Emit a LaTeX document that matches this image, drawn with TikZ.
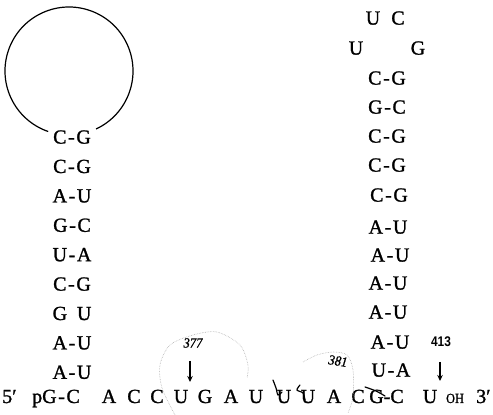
\documentclass[tikz,border=0pt]{standalone}
\usepackage{fontspec}
\usetikzlibrary{arrows.meta}
\setmainfont{Liberation Serif}
\newfontfamily\nucfam[FakeBold=1.2]{Liberation Serif}
\newfontfamily\numfam{Liberation Sans}
\newfontfamily\handfam[FakeBold=1]{Liberation Serif}
\newcommand\bpr[2]{#1\kern1.6pt-\kern1.6pt#2}
\begin{document}
\begin{tikzpicture}[x=1pt,y=1pt,
  nt/.style={font=\nucfam\fontsize{20}{20}\selectfont, inner sep=0pt, anchor=base},
  ntw/.style={nt, anchor=base west},
  smalloh/.style={font=\nucfam\fontsize{14}{14}\selectfont, inner sep=0pt, anchor=base, xscale=0.88},
  posnum/.style={font=\numfam\bfseries\fontsize{14}{14}\selectfont, inner sep=0pt, xscale=0.85},
  handnum/.style={font=\handfam\itshape\fontsize{14}{14}\selectfont, inner sep=0pt, xscale=0.9},
  loopline/.style={line width=1.2pt},
  pointer/.style={line width=1.1pt, -{Stealth[length=6pt,width=5.5pt]}},
  pencil/.style={gray!65, line width=0.6pt, densely dotted},
  scrawl/.style={black, line width=1.2pt, line cap=round}
]
\useasboundingbox (0,0) rectangle (493,415);

% ---------- left hairpin ----------
\coordinate (lc) at (69,344);
\draw[loopline] (lc) ++(-65:64pt) arc[start angle=-65, end angle=251, radius=64pt];
\node[nt] (l1) at (72,271.4) {\bpr CG};
\node[nt] (l2) at (72,242.0) {\bpr CG};
\node[nt] (l3) at (72,212.6) {\bpr AU};
\node[nt] (l4) at (72,183.2) {\bpr GC};
\node[nt] (l5) at (72,153.8) {\bpr UA};
\node[nt] (l6) at (72,124.4) {\bpr CG};
\node[nt] (l7) at (72,95.0)  {G\kern1.6pt\phantom{-}\kern1.6pt U};
\node[nt] (l8) at (72,65.6)  {\bpr AU};
\node[nt] (l9) at (72,36.2)  {\bpr AU};

% ---------- right hairpin ----------
\node[nt] (rt1) at (373,390.4) {U};
\node[nt] (rt2) at (398,390.4) {C};
\node[nt] (rl1) at (356,360.4) {U};
\node[nt] (rl2) at (418,360.4) {G};
\node[nt] (r1)  at (387,330.4) {\bpr CG};
\node[nt] (r2)  at (387,301.4) {\bpr GC};
\node[nt] (r3)  at (387,272.4) {\bpr CG};
\node[nt] (r4)  at (387,243.4) {\bpr CG};
\node[nt] (r5)  at (389,213.4) {\bpr CG};
\node[nt] (r6)  at (388,181.4) {\bpr AU};
\node[nt] (r7)  at (390,153.4) {\bpr AU};
\node[nt] (r8)  at (388,125.4) {\bpr AU};
\node[nt] (r9)  at (388,96.4)  {\bpr AU};
\node[nt] (r10) at (390,66.4)  {\bpr AU};
\node[nt] (r11) at (391,38.4)  {\bpr UA};

% ---------- bottom strand ----------
\node[ntw] (five) at (2,12) {5′};
\node[ntw] (b0) at (32,12) {p\bpr GC};
\node[nt] (b1)  at (109,12) {A};
\node[nt] (b2)  at (134,12) {C};
\node[nt] (b3)  at (157,12) {C};
\node[nt] (b4)  at (181,12) {U};
\node[nt] (b5)  at (205,12) {G};
\node[nt] (b6)  at (231,12) {A};
\node[nt] (b7)  at (256,12) {U};
\node[nt] (b8)  at (284,12) {U};
\node[nt] (b9)  at (308,12) {U};
\node[nt] (b10) at (334,12) {A};
\node[nt] (b11) at (358,12) {C};
\node[nt] (b12) at (386.5,12) {G-C};
\node[nt] (b13) at (430,12) {U};
\node[smalloh] (oh) at (455,12) {OH};
\node[ntw] (three) at (476,12) {3′};

% ---------- position marks ----------
\node[handnum] (n377) at (193,72) {377};
\coordinate (a1s) at (190,54);
\coordinate (a1e) at (190,33);
\draw[pointer] (a1s) -- (a1e);
\node[posnum] (n413) at (441,73) {413};
\coordinate (a2s) at (440,53);
\coordinate (a2e) at (440,34);
\draw[pointer] (a2s) -- (a2e);

% ---------- pencil annotations ----------
\draw[pencil] plot[smooth] coordinates {(175,0) (162,27) (160,50) (170,70) (193,80) (217,83) (240,70) (248,50) (247,37)};
\draw[pencil] plot[smooth] coordinates {(303,53) (317,60) (333,63) (347,60) (353,45) (353,18) (348,2)};
\node[handnum, rotate=-8] (n381) at (338,54) {381};
\draw[scrawl] plot[smooth] coordinates {(273,35) (276,27) (278,20) (282,23)};
\draw[scrawl] plot[smooth] coordinates {(300,30) (297,25) (303,22) (305,15)};
\draw[scrawl] plot[smooth] coordinates {(365,28) (376,24) (385,19)};
\end{tikzpicture}
\end{document}
